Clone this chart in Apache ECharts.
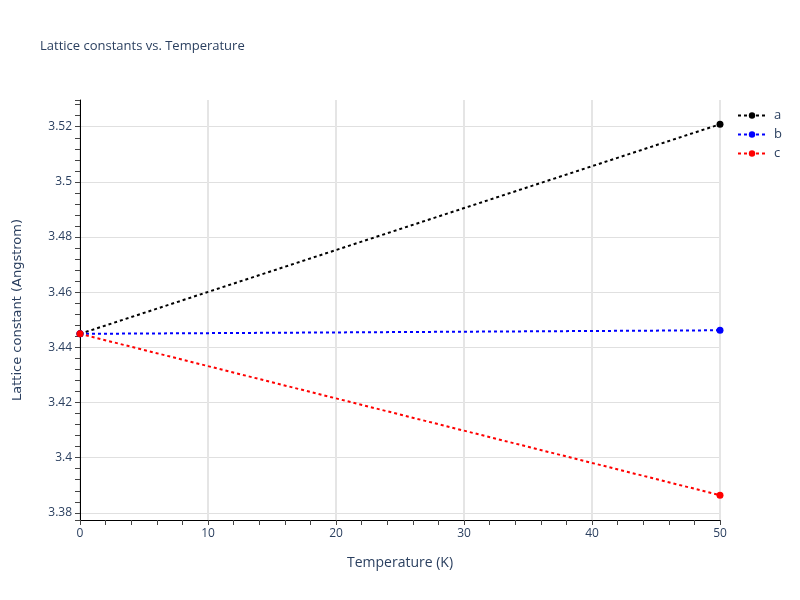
<!DOCTYPE html>
<html>
<head>
<meta charset="utf-8">
<script src="https://cdn.jsdelivr.net/npm/echarts@6/dist/echarts.min.js"></script>
<style>html,body{margin:0;padding:0;background:#fff}#c{width:800px;height:600px}</style>
</head>
<body>
<div id="c"></div>
<script>
const temperatures = [0, 50];
const seriesNames = ['a', 'b', 'c'];
const aValues = [3.4449, 3.5209];
const bValues = [3.4449, 3.4462];
const cValues = [3.4449, 3.3864];
const colors = ['#000000', '#0000ff', '#ff0000'];
const yRange = [3.3774, 3.5297];
const xRange = [0, 50];

const font = '"Open Sans", Verdana, Arial, sans-serif';
const txt = '#2a3f5f';
const chart = echarts.init(document.getElementById('c'), null, {renderer: 'canvas'});
const allValues = [aValues, bValues, cValues];
chart.setOption({
  animation: false,
  backgroundColor: '#fff',
  title: {
    text: 'Lattice constants vs. Temperature',
    left: 35, top: 35,
    textStyle: {fontFamily: font, fontSize: 13, fontWeight: 'normal', color: txt}
  },
  legend: {
    orient: 'vertical',
    left: 732, top: 104,
    itemWidth: 28, itemHeight: 8, itemGap: 6,
    textStyle: {fontFamily: font, fontSize: 13, color: txt, padding: [0, 0, 0, 3]},
    data: seriesNames
  },
  grid: {left: 80, right: 80, top: 100, bottom: 80, containLabel: false},
  xAxis: {
    type: 'value', min: xRange[0], max: xRange[1], interval: 10,
    name: 'Temperature (K)', nameLocation: 'middle', nameGap: 36,
    nameTextStyle: {fontFamily: font, fontSize: 14, color: txt},
    axisLine: {show: true, onZero: false, lineStyle: {color: '#000', width: 1}},
    axisTick: {show: true, inside: false, length: 5, lineStyle: {color: '#444'}},
    minorTick: {show: true, splitNumber: 5, length: 5, lineStyle: {color: '#444'}},
    axisLabel: {fontFamily: font, fontSize: 12, color: txt, margin: 8},
    splitLine: {show: true, lineStyle: {color: '#e5e5e5', width: 2}}
  },
  yAxis: {
    type: 'value', min: yRange[0], max: yRange[1], splitNumber: 7,
    name: 'Lattice constant (Angstrom)', nameLocation: 'middle', nameGap: 56,
    nameTextStyle: {fontFamily: 'DejaVu Sans, Verdana, sans-serif', fontSize: 13, color: txt},
    axisLine: {show: true, onZero: false, lineStyle: {color: '#000', width: 1}},
    axisTick: {show: true, inside: false, length: 5, lineStyle: {color: '#444'}},
    minorTick: {show: true, splitNumber: 5, length: 5, lineStyle: {color: '#444'}},
    axisLabel: {fontFamily: font, fontSize: 12, color: txt, margin: 8, showMinLabel: false, showMaxLabel: false,
      formatter: v => String(parseFloat(v.toFixed(3)))},
    splitLine: {show: true, showMinLine: false, showMaxLine: false, lineStyle: {color: '#e0e0e0', width: 1}}
  },
  series: seriesNames.map((n, i) => ({
    name: n, type: 'line',
    data: temperatures.map((t, j) => [t, allValues[i][j]]),
    symbol: 'circle', symbolSize: 7, showSymbol: true,
    itemStyle: {color: colors[i]},
    lineStyle: {color: colors[i], width: 2, type: [3, 3]},
    clip: false
  }))
});
</script>
</body>
</html>
